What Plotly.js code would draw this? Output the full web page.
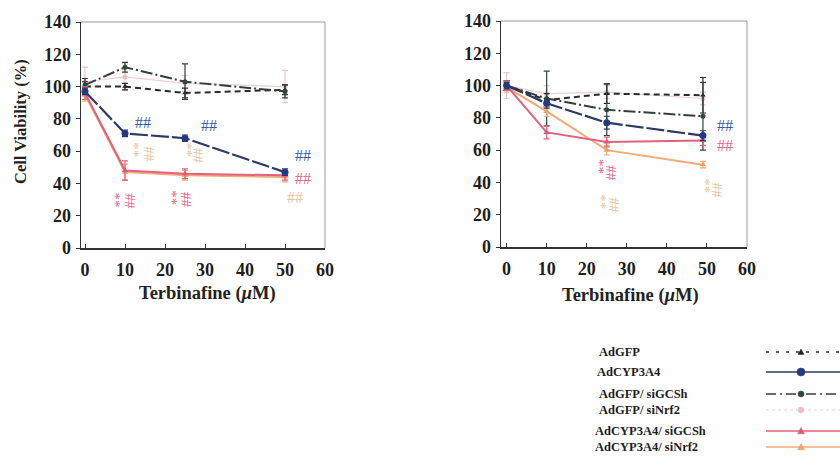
<!DOCTYPE html>
<html>
<head>
<meta charset="utf-8">
<script src="https://cdn.plot.ly/plotly-3.0.1.min.js"></script>
<style>html,body{margin:0;padding:0;background:#fff;}#chart{width:840px;height:460px;}</style>
</head>
<body>
<div id="chart"></div>
<script>
// ---------- data ----------
const seriesNames = ["AdGFP", "AdCYP3A4", "AdGFP/ siGCSh", "AdGFP/ siNrf2", "AdCYP3A4/ siGCSh", "AdCYP3A4/ siNrf2"];
const dosesLeft = [0, 10, 25, 50];
const dosesRight = [0, 10, 25, 49];

// left panel values (%)
const L_AdGFP = [100, 100, 96, 98];
const L_AdCYP3A4 = [97, 71, 68, 47];
const L_AdGFP_siGCSh = [101, 112, 103, 97];
const L_AdGFP_siNrf2 = [103, 106, 102, 100];
const L_AdCYP3A4_siGCSh = [96, 48, 46, 45];
const L_AdCYP3A4_siNrf2 = [95, 47, 45, 44];
// left panel error bars
const L_err_AdGFP = [3, 2, 3, 3];
const L_err_AdCYP3A4 = [2, 2, 2, 2];
const L_err_AdGFP_siGCSh = [4, 3, 11, 4];
const L_err_AdGFP_siNrf2 = [9, 8, 5, 10];
const L_err_AdCYP3A4_siGCSh = [4, 6, 3, 3];
const L_err_AdCYP3A4_siNrf2 = [4, 5, 3, 3];

// right panel values (%)
const R_AdGFP = [100, 91, 95, 94];
const R_AdCYP3A4 = [100, 89, 77, 69];
const R_AdGFP_siGCSh = [100, 92, 85, 81];
const R_AdGFP_siNrf2 = [100, 95, 96, 92];
const R_AdCYP3A4_siGCSh = [100, 71, 65, 66];
const R_AdCYP3A4_siNrf2 = [99, 84, 60, 51];
// right panel error bars
const R_err_AdGFP = [3, 4, 6, 11];
const R_err_AdCYP3A4 = [2, 3, 4, 3];
const R_err_AdGFP_siGCSh = [3, 17, 16, 21];
const R_err_AdGFP_siNrf2 = [8, 5, 4, 4];
const R_err_AdCYP3A4_siGCSh = [3, 4, 3, 3];
const R_err_AdCYP3A4_siNrf2 = [3, 3, 3, 2];

const yTicks = [0, 20, 40, 60, 80, 100, 120, 140];
const xTicks = [0, 10, 20, 30, 40, 50, 60];
const xTitleText = "Terbinafine (<i>μ</i>M)";
const yTitleText = "Cell Viability (%)";

// ---------- styles ----------
const styles = [
  {color: "#2b2b2b", dash: "6px,4px", width: 2, symbol: "triangle-up", msize: 5, mcolor: "#222"},
  {color: "#2c3a64", dash: "18px,3px", width: 2.2, symbol: "circle", msize: 7, mcolor: "#243a80"},
  {color: "#33403a", dash: "12px,3px,2px,3px", width: 2, symbol: "circle", msize: 5, mcolor: "#2d4a35"},
  {color: "#ecd0d4", dash: "solid", width: 1.2, symbol: "circle", msize: 5, mcolor: "#e8c0c8"},
  {color: "#e3607e", dash: "solid", width: 2, symbol: "triangle-up", msize: 6, mcolor: "#e05878"},
  {color: "#f2ab78", dash: "solid", width: 2, symbol: "triangle-up", msize: 6, mcolor: "#f0a060"}
];

const leftY = [L_AdGFP, L_AdCYP3A4, L_AdGFP_siGCSh, L_AdGFP_siNrf2, L_AdCYP3A4_siGCSh, L_AdCYP3A4_siNrf2];
const leftE = [L_err_AdGFP, L_err_AdCYP3A4, L_err_AdGFP_siGCSh, L_err_AdGFP_siNrf2, L_err_AdCYP3A4_siGCSh, L_err_AdCYP3A4_siNrf2];
const rightY = [R_AdGFP, R_AdCYP3A4, R_AdGFP_siGCSh, R_AdGFP_siNrf2, R_AdCYP3A4_siGCSh, R_AdCYP3A4_siNrf2];
const rightE = [R_err_AdGFP, R_err_AdCYP3A4, R_err_AdGFP_siGCSh, R_err_AdGFP_siNrf2, R_err_AdCYP3A4_siGCSh, R_err_AdCYP3A4_siNrf2];

const drawOrder = [3, 0, 2, 5, 4, 1];
const traces = [];
function addPanel(xs, ys, es, xa, ya) {
  drawOrder.forEach(i => {
    const s = styles[i];
    traces.push({
      type: "scatter", mode: "lines+markers", name: seriesNames[i],
      x: xs, y: ys[i], xaxis: xa, yaxis: ya, showlegend: false,
      line: {color: s.color, dash: s.dash, width: s.width},
      marker: {symbol: s.symbol, size: s.msize, color: s.mcolor},
      error_y: {type: "data", array: es[i], visible: true, color: i === 3 ? "#e8c4cc" : s.color, thickness: 1.2, width: 3}
    });
  });
}
addPanel(dosesLeft, leftY, leftE, "x", "y");
addPanel(dosesRight, rightY, rightE, "x2", "y2");

// ---------- layout helpers ----------
const W = 840, H = 460;
const px = v => v / W;
const py = v => 1 - v / H;
const serif = "Liberation Serif";
const tickFont = {family: serif, size: 18, color: "#1e1e1e", weight: 700};

function xAxis(domain, range) {
  return {domain: domain, range: range, tickvals: xTicks, ticks: "inside", ticklen: 4, tickcolor: "#333",
    showline: true, linecolor: "#333", linewidth: 1.5, showgrid: false, zeroline: false,
    tickfont: tickFont, ticklabelstandoff: 5, fixedrange: true};
}
function yAxis(domain, anchor) {
  return {domain: domain, range: [0, 140], tickvals: yTicks, ticks: "outside", ticklen: 4, tickcolor: "#333",
    showline: true, linecolor: "#333", linewidth: 1.5, showgrid: false, zeroline: false,
    tickfont: tickFont, ticklabelstandoff: 1, anchor: anchor, fixedrange: true};
}

const colBlue = "#3558a8", colPink = "#e4648a", colPeach = "#e8c39c";
// significance marks: [xref, x, y, text, color, angle]
const sigMarks = [
  ["x", 14.5, 78, "##", colBlue, 0],
  ["x", 31, 76, "##", colBlue, 0],
  ["x", 54.5, 57, "##", colBlue, 0],
  ["x", 54.5, 43, "##", colPink, 0],
  ["x", 52.5, 31, "##", colPeach, 0],
  ["x", 12.3, 61, "**", colPeach, 90],
  ["x", 15.8, 58, "##", colPeach, 90],
  ["x", 25.6, 61, "**", colPeach, 90],
  ["x", 28.3, 57, "##", colPeach, 90],
  ["x", 7.5, 30, "**", colPink, 90],
  ["x", 11.2, 29, "##", colPink, 90],
  ["x", 21.7, 31, "**", colPink, 90],
  ["x", 25.4, 30, "##", colPink, 90],
  ["x2", 54.5, 75, "##", colBlue, 0],
  ["x2", 54.5, 63, "##", colPink, 0],
  ["x2", 22.9, 50, "**", colPink, 90],
  ["x2", 26.2, 46, "##", colPink, 90],
  ["x2", 23.7, 28, "**", colPeach, 90],
  ["x2", 26.7, 26, "##", colPeach, 90],
  ["x2", 49.6, 38, "**", colPeach, 90],
  ["x2", 52.5, 35, "##", colPeach, 90]
];

const annotations = sigMarks.map(m => ({
  xref: m[0], yref: m[0] === "x" ? "y" : "y2", x: m[1], y: m[2], text: m[3], showarrow: false,
  xanchor: "center", yanchor: "middle",
  textangle: m[5], font: {family: serif, size: m[5] ? 15 : 16, color: m[4]}
}));

// axis titles
annotations.push({xref: "paper", yref: "paper", x: px(20), y: py(122), xanchor: "center", yanchor: "middle",
  text: "<b>" + yTitleText + "</b>", textangle: -90,
  showarrow: false, font: {family: serif, size: 16.5, color: "#222"}});
annotations.push({xref: "paper", yref: "paper", x: px(207), y: py(293), xanchor: "center", yanchor: "middle",
  text: "<b>" + xTitleText + "</b>",
  showarrow: false, font: {family: serif, size: 18.5, color: "#222"}});
annotations.push({xref: "paper", yref: "paper", x: px(630), y: py(295), xanchor: "center", yanchor: "middle",
  text: "<b>" + xTitleText + "</b>",
  showarrow: false, font: {family: serif, size: 18.5, color: "#222"}});

// legend (text left, sample right)
const legendRows = [352, 372, 394, 410, 431, 447];
const legendTextX = [597, 595, 597, 597, 593, 593];
const shapes = [];
// top/right frame lines of both panels
[["x", "y"], ["x2", "y2"]].forEach(([xa, ya]) => {
  shapes.push({type: "line", xref: xa + " domain", yref: ya + " domain", x0: 0, x1: 1, y0: 1, y1: 1, line: {color: "#999", width: 1}});
  shapes.push({type: "line", xref: xa + " domain", yref: ya + " domain", x0: 1, x1: 1, y0: 0, y1: 1, line: {color: "#999", width: 1}});
});
seriesNames.forEach((n, i) => {
  const s = styles[i];
  const yy = legendRows[i];
  annotations.push({xref: "paper", yref: "paper", x: px(legendTextX[i]), y: py(yy), xanchor: "left", yanchor: "middle",
    text: "<b>" + n + "</b>",
    showarrow: false, font: {family: serif, size: 12.5, color: "#1e1e1e"}});
  shapes.push({type: "line", xref: "paper", yref: "paper", x0: px(766), x1: px(840), y0: py(yy), y1: py(yy),
    line: {color: s.color, width: i === 3 ? 1 : 1.5, dash: i === 0 ? "3px,7px" : (i === 2 ? "10px,4px,2px,4px" : (i === 3 ? "dot" : "solid"))}});
  const cx = 801, r = s.msize / 2 + 0.5;
  if (s.symbol === "circle") {
    shapes.push({type: "circle", xref: "paper", yref: "paper", x0: px(cx - r), x1: px(cx + r), y0: py(yy - r), y1: py(yy + r),
      fillcolor: s.mcolor, line: {color: s.mcolor, width: 0.5}});
  } else {
    shapes.push({type: "path", xref: "paper", yref: "paper",
      path: `M ${px(cx - r)} ${py(yy + r * 0.8)} L ${px(cx + r)} ${py(yy + r * 0.8)} L ${px(cx)} ${py(yy - r)} Z`,
      fillcolor: s.mcolor, line: {color: s.mcolor, width: 0.5}});
  }
});

const layout = {
  width: W, height: H,
  margin: {l: 0, r: 0, t: 0, b: 0},
  paper_bgcolor: "#fff", plot_bgcolor: "#fff",
  showlegend: false,
  xaxis: xAxis([px(81), px(325)], [-1, 60]),
  yaxis: yAxis([py(248), py(22)], "x"),
  xaxis2: Object.assign(xAxis([px(501), px(747)], [-1.4, 60]), {anchor: "y2"}),
  yaxis2: yAxis([py(247), py(21)], "x2"),
  annotations: annotations,
  shapes: shapes
};

Plotly.newPlot("chart", traces, layout, {displayModeBar: false, staticPlot: true});
</script>
</body>
</html>
